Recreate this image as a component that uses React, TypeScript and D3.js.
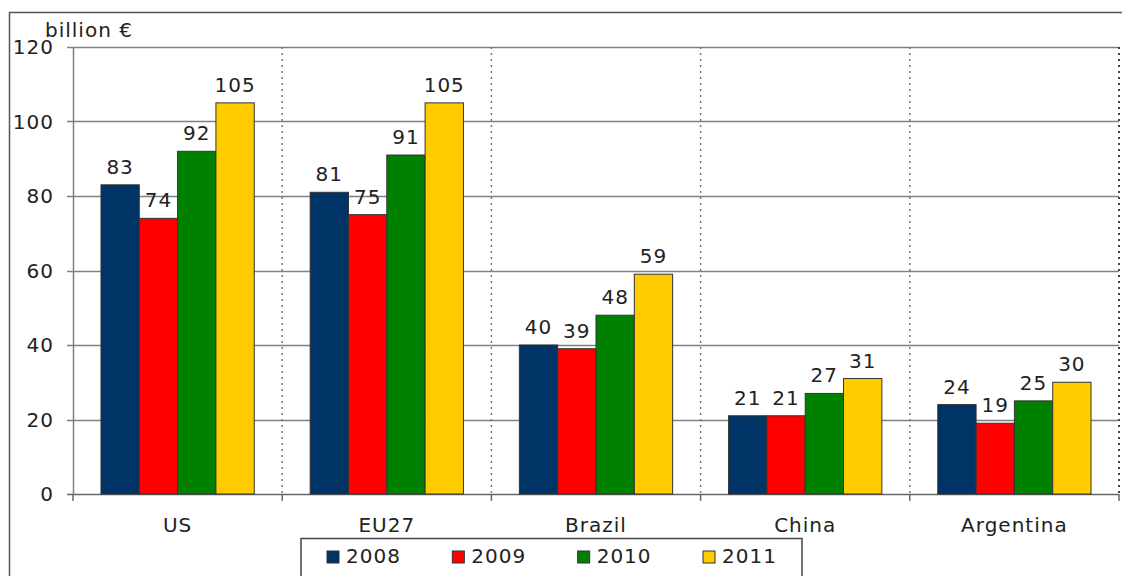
import React, { useRef, useEffect } from "react";
import * as d3 from "d3";

const categories = ["US", "EU27", "Brazil", "China", "Argentina"];
const years = ["2008", "2009", "2010", "2011"];
const values2008 = [83, 81, 40, 21, 24];
const values2009 = [74, 75, 39, 21, 19];
const values2010 = [92, 91, 48, 27, 25];
const values2011 = [105, 105, 59, 31, 30];
const yTicks = [0, 20, 40, 60, 80, 100, 120];
const colors = ["#003366", "#ff0000", "#008000", "#ffcc00"];

const App = () => {
  const svgRef = useRef<SVGSVGElement>(null);

  useEffect(() => {
    const svg = d3.select(svgRef.current);
    svg.selectAll("*").remove();

    const width = 1122;
    const height = 576;
    const margin = { top: 47, right: 3, bottom: 82, left: 73 };
    const font = "Verdana, 'DejaVu Sans', sans-serif";
    const series = [values2008, values2009, values2010, values2011];

    const txt = (sel: any) =>
      sel
        .style("font-family", font)
        .style("font-size", "20px")
        .style("letter-spacing", "1px")
        .style("fill", "#222");

    // outer frame (cut off at right and bottom)
    svg
      .append("rect")
      .attr("x", 9.5)
      .attr("y", 12.5)
      .attr("width", 1130)
      .attr("height", 600)
      .attr("fill", "none")
      .attr("stroke", "#555")
      .attr("stroke-width", 1.5);

    const x = d3
      .scaleBand()
      .domain(categories)
      .range([margin.left, width - margin.right])
      .paddingInner(0)
      .paddingOuter(0);

    const x1 = d3
      .scaleBand()
      .domain(years)
      .range([0, x.bandwidth()])
      .paddingOuter(0.73);

    const y = d3
      .scaleLinear()
      .domain([0, 120])
      .range([height - margin.bottom, margin.top]);

    // gridlines
    svg
      .append("g")
      .selectAll("line")
      .data(yTicks)
      .enter()
      .append("line")
      .attr("x1", margin.left - 6)
      .attr("x2", width - margin.right)
      .attr("y1", (d) => Math.round(y(d)) + 0.5)
      .attr("y2", (d) => Math.round(y(d)) + 0.5)
      .attr("stroke", (d) => (d === 0 ? "#666" : "#808080"))
      .attr("stroke-width", 1.5);

    // dotted separators
    svg
      .append("g")
      .selectAll("line")
      .data(categories)
      .enter()
      .append("line")
      .attr("x1", (d) => x(d)! + x.bandwidth())
      .attr("x2", (d) => x(d)! + x.bandwidth())
      .attr("y1", y(120))
      .attr("y2", y(0))
      .attr("stroke", (d, i) => (i === categories.length - 1 ? "#444" : "#777"))
      .attr("stroke-width", (d, i) => (i === categories.length - 1 ? 2 : 1.5))
      .attr("stroke-dasharray", "2,4");

    // y axis line
    svg
      .append("line")
      .attr("x1", margin.left + 0.5)
      .attr("x2", margin.left + 0.5)
      .attr("y1", y(120))
      .attr("y2", y(0))
      .attr("stroke", "#808080")
      .attr("stroke-width", 1.5);

    // x ticks
    svg
      .append("g")
      .selectAll("line")
      .data([margin.left, ...categories.map((c) => x(c)! + x.bandwidth())])
      .enter()
      .append("line")
      .attr("x1", (d) => d)
      .attr("x2", (d) => d)
      .attr("y1", y(0))
      .attr("y2", y(0) + 7)
      .attr("stroke", "#666")
      .attr("stroke-width", 1.5);

    // y tick labels
    svg
      .append("g")
      .selectAll("text")
      .data(yTicks)
      .enter()
      .append("text")
      .attr("x", 54)
      .attr("y", (d) => y(d))
      .attr("dy", "0.35em")
      .attr("text-anchor", "end")
      .call(txt)
      .text((d) => d);

    svg
      .append("text")
      .attr("x", 45)
      .attr("y", 37)
      .call(txt)
      .text("billion €");

    // bars
    const groups = svg
      .append("g")
      .selectAll("g")
      .data(categories)
      .enter()
      .append("g")
      .attr("transform", (d) => `translate(${x(d)},0)`);

    groups
      .selectAll("rect")
      .data((d, i) => years.map((yr, k) => ({ yr, k, v: series[k][i] })))
      .enter()
      .append("rect")
      .attr("x", (d) => x1(d.yr)!)
      .attr("y", (d) => y(d.v))
      .attr("width", x1.bandwidth())
      .attr("height", (d) => y(0) - y(d.v))
      .attr("fill", (d) => colors[d.k])
      .attr("stroke", "#333")
      .attr("stroke-width", 1);

    groups
      .selectAll("text")
      .data((d, i) => years.map((yr, k) => ({ yr, k, v: series[k][i] })))
      .enter()
      .append("text")
      .attr("x", (d) => x1(d.yr)! + x1.bandwidth() / 2)
      .attr("y", (d) => y(d.v) - 11)
      .attr("text-anchor", "middle")
      .call(txt)
      .text((d) => d.v);

    // category labels
    svg
      .append("g")
      .selectAll("text")
      .data(categories)
      .enter()
      .append("text")
      .attr("x", (d) => x(d)! + x.bandwidth() / 2)
      .attr("y", 532)
      .attr("text-anchor", "middle")
      .call(txt)
      .text((d) => d);

    // legend
    const legend = svg.append("g");
    legend
      .append("rect")
      .attr("x", 301)
      .attr("y", 538.5)
      .attr("width", 501)
      .attr("height", 50)
      .attr("fill", "#fff")
      .attr("stroke", "#444")
      .attr("stroke-width", 1.5);

    const lx = d3.scalePoint().domain(years).range([327, 703]);
    const items = legend
      .selectAll("g.item")
      .data(years)
      .enter()
      .append("g")
      .attr("class", "item")
      .attr("transform", (d) => `translate(${lx(d)},0)`);
    items
      .append("rect")
      .attr("x", 0)
      .attr("y", 551)
      .attr("width", 12)
      .attr("height", 12)
      .attr("fill", (d, i) => colors[i])
      .attr("stroke", "#333")
      .attr("stroke-width", 1);
    items
      .append("text")
      .attr("x", 19)
      .attr("y", 563)
      .call(txt)
      .text((d) => d);
  }, []);

  return (
    <svg
      ref={svgRef}
      width={1122}
      height={576}
      style={{ position: "absolute", left: 0, top: 0, background: "#fff" }}
    ></svg>
  );
};

export default App;
